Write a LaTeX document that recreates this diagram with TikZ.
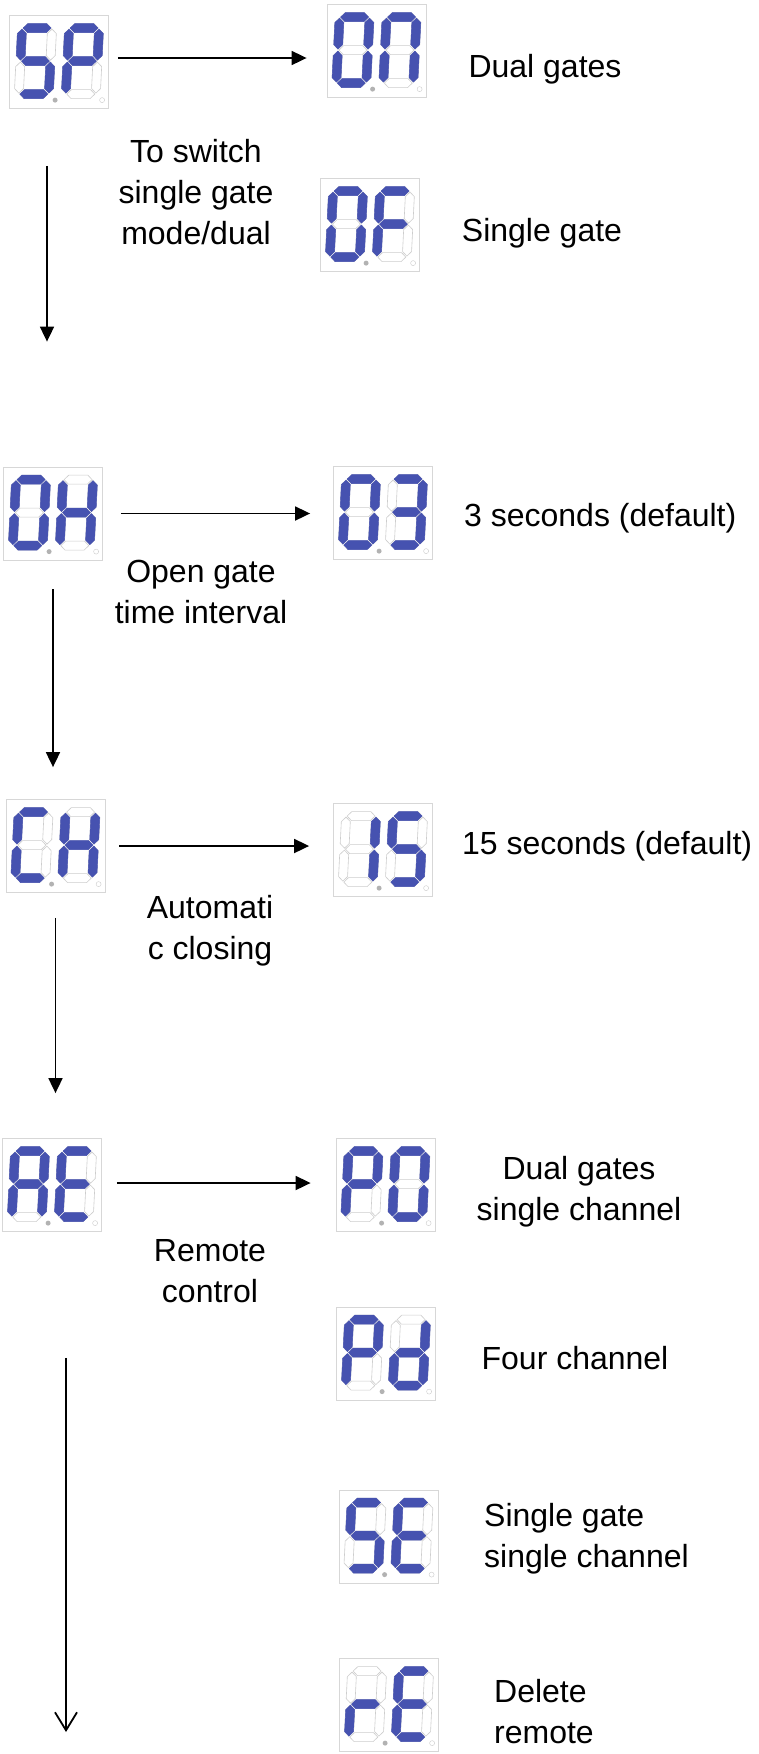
\documentclass[tikz,border=0pt]{standalone}
\usepackage{fontspec}
\setmainfont{Liberation Sans}
\usetikzlibrary{arrows.meta}

\definecolor{segblue}{RGB}{70,82,176}
\definecolor{segline}{RGB}{205,205,205}
\definecolor{boxline}{RGB}{215,215,215}

% one bar of a seven segment digit
\newcommand\hseg[3]{\path[#3] (#1+1,#2) -- ++(4.5,4.5) -- ++(19,0) -- ++(4.5,-4.5) -- ++(-4.5,-4.5) -- ++(-19,0) -- cycle;}
\newcommand\vseg[3]{\path[#3] (#1,#2+1) -- ++(4.5,4.5) -- ++(0,22) -- ++(-4.5,4.5) -- ++(-4.5,-4.5) -- ++(0,-22) -- cycle;}
\newcommand\sega[1]{\hseg{0}{0}{#1}}
\newcommand\segb[1]{\vseg{30}{0}{#1}}
\newcommand\segc[1]{\vseg{30}{33}{#1}}
\newcommand\segd[1]{\hseg{0}{66}{#1}}
\newcommand\sege[1]{\vseg{0}{33}{#1}}
\newcommand\segf[1]{\vseg{0}{0}{#1}}
\newcommand\segg[1]{\hseg{0}{33}{#1}}

\newcommand\digit[3]{%
  \begin{scope}[shift={(#1,#2)},xslant=0.05]
    \foreach \s in {a,b,c,d,e,f,g} {\csname seg\s\endcsname{segoff}}
    \foreach \s in {#3} {\csname seg\s\endcsname{segon}}
  \end{scope}}

% two digit display: name, centre, lit segments left, right
\newcommand\lcd[4]{%
  \node[lcdbox] (#1) at (#2) {};
  \begin{scope}[shift={(#1.north west)}]
    \digit{13}{13}{#3}
    \digit{60}{13}{#4}
    \fill[gray!60] (46,85) circle (2.5pt);
    \draw[gray!40] (93,85) circle (2.5pt);
  \end{scope}}

\begin{document}
\begin{tikzpicture}[x=1pt,y=-1pt,
  lcdbox/.style={draw=boxline,line width=0.8pt,fill=white,minimum width=99pt,minimum height=93pt,inner sep=0pt},
  segon/.style={fill=segblue,draw=segblue,line width=0.4pt},
  segoff/.style={draw=segline,line width=0.6pt},
  flow/.style={-{Triangle[length=15pt,width=14pt]},line width=1.8pt},
  lbl/.style={font=\fontsize{32}{41}\selectfont,align=center,inner sep=0pt}]
  \useasboundingbox (0,0) rectangle (758,1754);

  \lcd{sp}{59,62}{a,f,g,c,d}{a,b,e,f,g}
  \lcd{on}{376.5,51}{a,b,c,d,e,f}{a,b,c,e,f}
  \lcd{of}{370,225}{a,b,c,d,e,f}{a,e,f,g}
  \lcd{oh}{53,513.5}{a,b,c,d,e,f}{b,c,e,f,g}
  \lcd{othree}{383,513}{a,b,c,d,e,f}{a,b,c,d,g}
  \lcd{ch}{55.5,846}{a,d,e,f}{b,c,e,f,g}
  \lcd{fifteen}{383,850}{b,c}{a,c,d,f,g}
  \lcd{ae}{52,1185}{a,b,c,e,f,g}{a,d,e,f,g}
  \lcd{po}{385.5,1185}{a,b,e,f,g}{a,b,c,d,e,f}
  \lcd{pd}{386,1353.5}{a,b,e,f,g}{b,c,d,e,g}
  \lcd{se}{388.5,1536.5}{a,c,d,f,g}{a,d,e,f,g}
  \lcd{re}{389,1705}{e,g}{a,d,e,f,g}

  \node[lbl] (dualtxt) at (545,69) {Dual gates};
  \node[lbl] (switchtxt) at (196,192) {To switch\\single gate\\mode/dual};
  \node[lbl] (singletxt) at (542,233) {Single gate};
  \node[lbl,anchor=west] (threetxt) at (464,518) {3 seconds (default)};
  \node[lbl] (opentxt) at (201,592) {Open gate\\time interval};
  \node[lbl,anchor=west] (fifteentxt) at (462,846) {15 seconds (default)};
  \node[lbl] (autotxt) at (210,931) {Automati\\c closing};
  \node[lbl] (dualchtxt) at (579,1192) {Dual gates\\single channel};
  \node[lbl] (remotetxt) at (210,1271) {Remote\\control};
  \node[lbl] (fourtxt) at (575,1358) {Four channel};
  \node[lbl,align=left,anchor=west] (singlechtxt) at (484,1539) {Single gate\\single channel};
  \node[lbl,align=left,anchor=west] (deletetxt) at (494,1712) {Delete\\remote};

  \draw[flow,shorten <=9pt,shorten >=20pt] ([yshift=4pt]sp.east) -- ([yshift=4pt]sp.east -| on.west);
  \draw[flow,shorten <=18pt,shorten >=23pt] (oh.east) -- (oh.east -| othree.west);
  \draw[flow,shorten <=14pt,shorten >=24pt] (ch.east) -- (ch.east -| fifteen.west);
  \draw[flow,shorten <=15pt,shorten >=25pt] ([yshift=2pt]ae.east) -- ([yshift=2pt]ae.east -| po.west);

  \draw[flow,shorten <=57pt,shorten >=125pt] ([xshift=-12pt]sp.south) -- ([xshift=-12pt]sp.south |- oh.north);
  \draw[flow,shorten <=29pt,shorten >=32pt] (oh.south) -- (oh.south |- ch.north);
  \draw[flow,shorten <=25pt,shorten >=45pt] (ch.south) -- (ch.south |- ae.north);
  \coordinate (exit) at (66,1732);
  \draw[line width=1.8pt,-{Straight Barb[length=18pt,width=22pt]},shorten <=126pt] ([xshift=14pt]ae.south) -- (exit);
\end{tikzpicture}
\end{document}
